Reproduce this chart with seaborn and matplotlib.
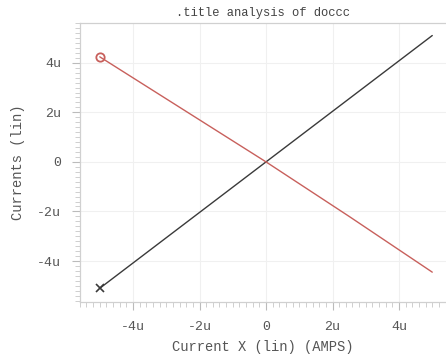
import numpy as np
import matplotlib
matplotlib.use("Agg")
import matplotlib.pyplot as plt
import seaborn as sns
from matplotlib.ticker import MultipleLocator, FuncFormatter

# sweep values, in micro-amps
sweep_x = [-5.0, -2.5, 0.0, 2.5, 5.0]
current_black = [-5.1, -2.55, 0.0, 2.55, 5.1]
current_red = [4.24, 2.12, 0.0, -2.2, -4.45]

sns.set_theme(style="white")
plt.rcParams["font.family"] = ["Liberation Mono", "DejaVu Sans Mono"]

fig = plt.figure(figsize=(4.46, 3.56), dpi=100)
ax = fig.add_axes([0.179, 0.152, 0.82, 0.783])

sns.lineplot(x=sweep_x, y=current_black, ax=ax, color="#3a3a3a", linewidth=1.0)
sns.lineplot(x=sweep_x, y=current_red, ax=ax, color="#c8605c", linewidth=1.0)
ax.plot(sweep_x[0], current_black[0], marker="x", color="#3a3a3a", markersize=6, mew=1.2)
ax.plot(sweep_x[0], current_red[0], marker="o", mfc="none", mec="#c8605c",
        markersize=6, mew=1.3)

ax.set_xlim(-5.6, 5.4)
ax.set_ylim(-5.65, 5.6)

fmt = FuncFormatter(lambda v, p: "0" if abs(v) < 1e-9 else f"{v:g}u")
for axis in (ax.xaxis, ax.yaxis):
    axis.set_major_locator(MultipleLocator(2))
    axis.set_minor_locator(MultipleLocator(0.2))
    axis.set_major_formatter(fmt)

ax.tick_params(which="major", direction="out", length=5.5, width=0.8, color="#bbbbbb",
               labelsize=9.5, labelcolor="#555555", pad=8,
               bottom=True, left=True, top=False, right=False)
ax.tick_params(which="minor", direction="out", length=3.5, width=0.6, color="#c8c8c8",
               bottom=True, left=True, top=False, right=False)

ax.grid(True, which="major", color="#f0f0f0", linewidth=0.8)
for side in ("left", "bottom", "top"):
    ax.spines[side].set_color("#d0d0d0")
    ax.spines[side].set_linewidth(0.9)
ax.spines["right"].set_visible(False)

ax.set_title(".title analysis of doccc", fontsize=8.7, color="#444444", pad=5)
ax.set_xlabel("Current X (lin) (AMPS)", fontsize=9.9, color="#555555", labelpad=5)
ax.set_ylabel("Currents (lin)", fontsize=9.9, color="#555555", labelpad=9)

fig.savefig("out.png", dpi=100)
